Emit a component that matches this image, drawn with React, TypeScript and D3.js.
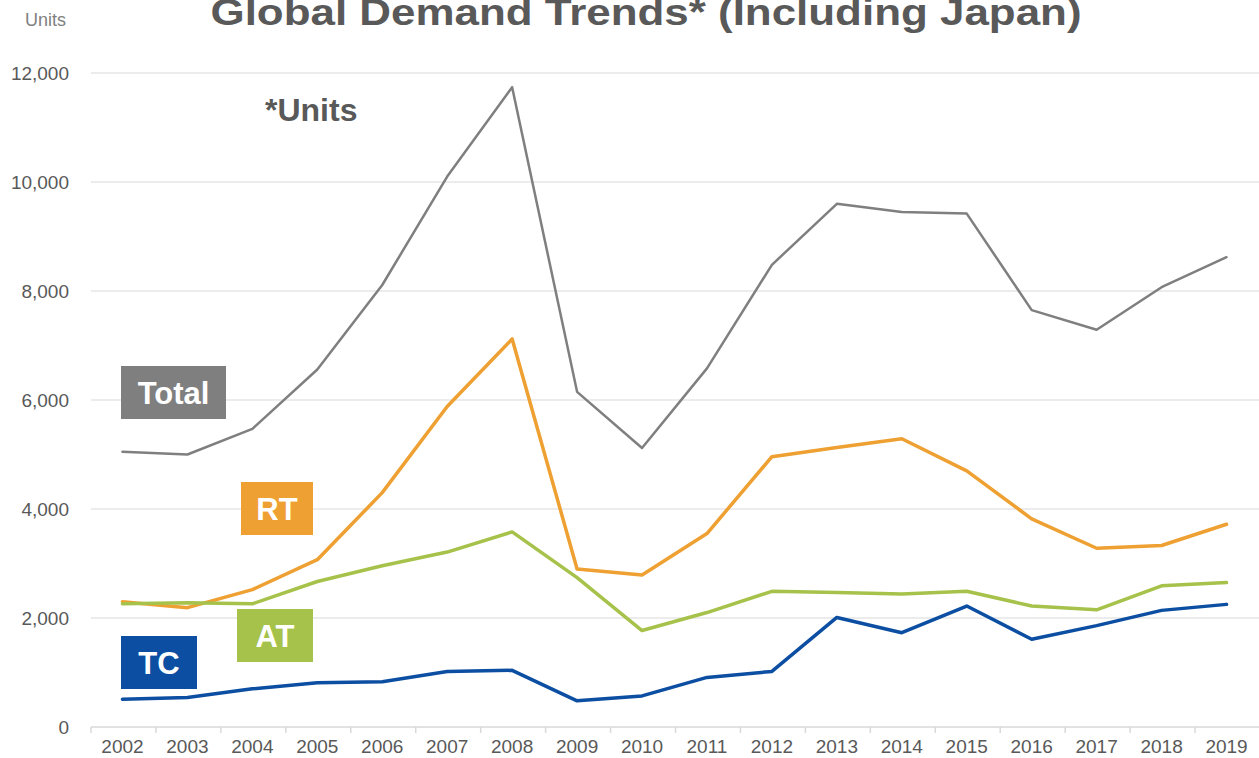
import * as d3 from "d3";

const years = [
  "2002", "2003", "2004", "2005", "2006", "2007", "2008", "2009", "2010",
  "2011", "2012", "2013", "2014", "2015", "2016", "2017", "2018", "2019",
];

const totalUnits = [5050, 5000, 5470, 6560, 8110, 10100, 11740, 6150, 5120, 6580, 8480, 9600, 9450, 9420, 7650, 7290, 8070, 8620];
const rtUnits = [2300, 2190, 2520, 3070, 4300, 5880, 7120, 2900, 2790, 3550, 4960, 5130, 5290, 4700, 3820, 3280, 3330, 3720];
const atUnits = [2260, 2280, 2260, 2670, 2960, 3210, 3580, 2740, 1770, 2100, 2490, 2470, 2440, 2490, 2220, 2150, 2590, 2650];
const tcUnits = [510, 540, 700, 810, 830, 1020, 1040, 480, 570, 910, 1020, 2010, 1730, 2220, 1610, 1860, 2140, 2250];

const yTicks = [0, 2000, 4000, 6000, 8000, 10000, 12000];

const FONT = "'Liberation Sans', Arial, sans-serif";
const TEXT = "#595959";

export default function App() {
  const width = 1259;
  const height = 758;
  const margin = { top: 73, right: 0, bottom: 31, left: 90 };

  const x = d3
    .scaleBand<string>()
    .domain(years)
    .range([margin.left, width - margin.right]);

  const y = d3
    .scaleLinear()
    .domain([0, 12000])
    .range([height - margin.bottom, margin.top]);

  const line = d3
    .line<number>()
    .x((_, i) => (x(years[i]) ?? 0) + x.bandwidth() / 2)
    .y((d) => y(d));

  const series = [
    { key: "Total", values: totalUnits, color: "#7f7f7f", w: 2.5 },
    { key: "RT", values: rtUnits, color: "#eea032", w: 3.5 },
    { key: "AT", values: atUnits, color: "#a6c24a", w: 3.5 },
    { key: "TC", values: tcUnits, color: "#0b4ea2", w: 3.5 },
  ];

  // callout boxes next to the lines
  const callouts = [
    { text: "Total", color: "#7f7f7f", x: 121, y: 366, w: 105 },
    { text: "RT", color: "#eea032", x: 241, y: 482, w: 72 },
    { text: "AT", color: "#a6c24a", x: 237, y: 609, w: 76 },
    { text: "TC", color: "#0b4ea2", x: 121, y: 636, w: 76 },
  ];

  const y0 = y(0);

  return (
    <svg
      width={width}
      height={height}
      style={{ position: "absolute", left: 0, top: 0, background: "#fff" }}
      fontFamily={FONT}
    >
      <text
        x={646}
        y={25}
        textAnchor="middle"
        fontSize={36}
        fontWeight={700}
        fill={TEXT}
        textLength={871}
        lengthAdjust="spacingAndGlyphs"
      >
        Global Demand Trends* (Including Japan)
      </text>

      <text x={25} y={26} fontSize={18} fill="#808080">
        Units
      </text>

      {/* gridlines + y labels */}
      {yTicks.map((t) => (
        <g key={t}>
          <line
            x1={margin.left + 1}
            x2={width}
            y1={y(t)}
            y2={y(t)}
            stroke="#d9d9d9"
            strokeWidth={t === 0 ? 1.5 : 1}
          />
          <text
            x={69}
            y={y(t)}
            dy="0.35em"
            textAnchor="end"
            fontSize={19}
            fill={TEXT}
          >
            {d3.format(",")(t)}
          </text>
        </g>
      ))}

      {/* x ticks + labels */}
      {years.map((yr) => {
        const bx = x(yr) ?? 0;
        return (
          <g key={yr}>
            <line x1={bx + 1} x2={bx + 1} y1={y0} y2={y0 + 6} stroke="#d9d9d9" strokeWidth={1.5} />
            <text
              x={bx + x.bandwidth() / 2}
              y={753}
              textAnchor="middle"
              fontSize={19}
              fill={TEXT}
            >
              {yr}
            </text>
          </g>
        );
      })}

      <text x={265} y={121} fontSize={32} fontWeight={700} fill={TEXT}>
        *Units
      </text>

      {series.map((s) => (
        <path
          key={s.key}
          d={line(s.values) ?? ""}
          fill="none"
          stroke={s.color}
          strokeWidth={s.w}
          strokeLinejoin="round"
          strokeLinecap="round"
        />
      ))}

      {callouts.map((c) => (
        <g key={c.text}>
          <rect x={c.x} y={c.y} width={c.w} height={53} fill={c.color} />
          <text
            x={c.x + c.w / 2}
            y={c.y + 38}
            textAnchor="middle"
            fontSize={31}
            fontWeight={700}
            fill="#fff"
          >
            {c.text}
          </text>
        </g>
      ))}
    </svg>
  );
}
